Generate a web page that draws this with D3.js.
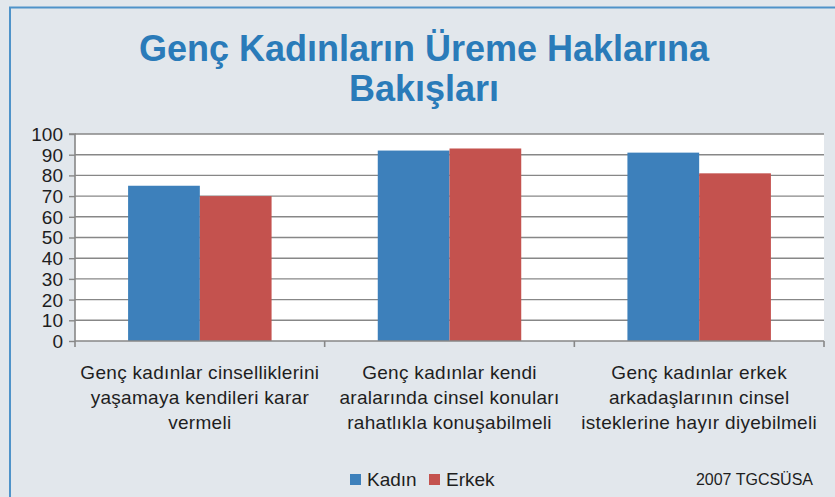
<!DOCTYPE html>
<html>
<head>
<meta charset="utf-8">
<script src="https://cdn.jsdelivr.net/npm/d3@7"></script>
<style>
  html, body { margin: 0; padding: 0; background: #e2e7ec; }
  svg { display: block; }
</style>
</head>
<body>
<svg id="chart" width="835" height="497"></svg>
<script>
// Survey answers (percent agreeing), by statement and respondent sex
const categories = [
  ["Genç kadınlar cinselliklerini", "yaşamaya kendileri karar", "vermeli"],
  ["Genç kadınlar kendi", "aralarında cinsel konuları", "rahatlıkla konuşabilmeli"],
  ["Genç kadınlar erkek", "arkadaşlarının cinsel", "isteklerine hayır diyebilmeli"]
];
const seriesNames = ["Kadın", "Erkek"];
const kadinValues = [75, 92, 91];
const erkekValues = [70, 93, 81];
const yTicks = [0, 10, 20, 30, 40, 50, 60, 70, 80, 90, 100];
const titleLines = ["Genç Kadınların Üreme Haklarına", "Bakışları"];
const sourceNote = "2007 TGCSÜSA";

const colors = { "Kadın": "#3d80bb", "Erkek": "#c4524e" };
const gridColor = "#878787";
const font = "'Liberation Sans', Arial, sans-serif";

const svg = d3.select("#chart");
const W = 835, H = 497;

// Panel background and frame
svg.append("rect").attr("x", 0).attr("y", 0).attr("width", W).attr("height", H).attr("fill", "#e2e7ec");
svg.append("path")
  .attr("d", "M10,497 L10,7.5 L835,7.5")
  .attr("fill", "none").attr("stroke", "#4f93c9").attr("stroke-width", 2);

// Title
const title = svg.append("text")
  .attr("text-anchor", "middle")
  .attr("font-family", font).attr("font-weight", "bold")
  .attr("font-size", 36).attr("fill", "#2a7bb9");
titleLines.forEach((t, i) => {
  title.append("tspan").attr("x", 424).attr("y", 61 + i * 40).text(t);
});

// Plot area
const plot = { left: 75, right: 824, top: 134, bottom: 341 };
svg.append("rect")
  .attr("x", plot.left).attr("y", plot.top)
  .attr("width", plot.right - plot.left).attr("height", plot.bottom - plot.top)
  .attr("fill", "#ffffff");

const y = d3.scaleLinear().domain([0, 100]).range([plot.bottom, plot.top]);
const x0 = d3.scaleBand().domain(d3.range(categories.length)).range([plot.left, plot.right]).padding(0);
const x1 = d3.scaleBand().domain(seriesNames)
  .range([0, x0.bandwidth()]).paddingInner(0).paddingOuter(0.74);

// Horizontal gridlines
svg.append("g").selectAll("line").data(yTicks.filter(d => d > 0)).join("line")
  .attr("x1", plot.left).attr("x2", plot.right)
  .attr("y1", d => y(d)).attr("y2", d => y(d))
  .attr("stroke", gridColor).attr("stroke-width", 1.4);

// Bars
const rows = categories.map((c, i) => ({ i, values: [
  { key: "Kadın", value: kadinValues[i] },
  { key: "Erkek", value: erkekValues[i] }
]}));
svg.append("g").selectAll("g").data(rows).join("g")
  .attr("transform", d => `translate(${x0(d.i)},0)`)
  .selectAll("rect").data(d => d.values).join("rect")
  .attr("x", d => x1(d.key)).attr("width", x1.bandwidth())
  .attr("y", d => y(d.value)).attr("height", d => y(0) - y(d.value))
  .attr("fill", d => colors[d.key]);

// Y axis
const yAxis = d3.axisLeft(y).tickValues(yTicks).tickSize(6).tickPadding(6);
const gy = svg.append("g").attr("transform", `translate(${plot.left},0)`).call(yAxis);
gy.select(".domain").attr("stroke", gridColor).attr("stroke-width", 1.6)
  .attr("d", `M-6,${plot.top}H0V${plot.bottom + 6}`);
gy.selectAll(".tick line").attr("stroke", gridColor).attr("stroke-width", 1.4);
gy.selectAll(".tick text").attr("font-family", font).attr("font-size", 19)
  .attr("fill", "#1e1e1e").attr("dy", "0.34em");

// X axis baseline and category separators
const gx = svg.append("g");
gx.append("line").attr("x1", plot.left).attr("x2", plot.right)
  .attr("y1", plot.bottom).attr("y2", plot.bottom)
  .attr("stroke", gridColor).attr("stroke-width", 1.6);
gx.selectAll("line.sep").data(d3.range(1, categories.length + 1)).join("line")
  .attr("class", "sep")
  .attr("x1", d => x0(d - 1) + x0.bandwidth()).attr("x2", d => x0(d - 1) + x0.bandwidth())
  .attr("y1", plot.bottom).attr("y2", plot.bottom + 6)
  .attr("stroke", gridColor).attr("stroke-width", 1.6);

// Category labels
const labels = svg.append("g").selectAll("text").data(categories).join("text")
  .attr("text-anchor", "middle")
  .attr("font-family", font).attr("font-size", 19).attr("letter-spacing", 0.3)
  .attr("fill", "#1e1e1e");
labels.each(function(lines, i) {
  const cx = x0(i) + x0.bandwidth() / 2;
  d3.select(this).selectAll("tspan").data(lines).join("tspan")
    .attr("x", cx).attr("y", (d, j) => 379 + j * 25).text(d => d);
});

// Legend
const legend = svg.append("g");
let lx = 350;
seriesNames.forEach(name => {
  legend.append("rect").attr("x", lx).attr("y", 474).attr("width", 11).attr("height", 11)
    .attr("fill", colors[name]);
  legend.append("text").attr("x", lx + 17).attr("y", 486)
    .attr("font-family", font).attr("font-size", 19).attr("fill", "#1e1e1e").text(name);
  lx += 79;
});

// Source note
svg.append("text").attr("x", 813).attr("y", 485).attr("text-anchor", "end")
  .attr("font-family", font).attr("font-size", 16).attr("fill", "#1e1e1e").text(sourceNote);
</script>
</body>
</html>
